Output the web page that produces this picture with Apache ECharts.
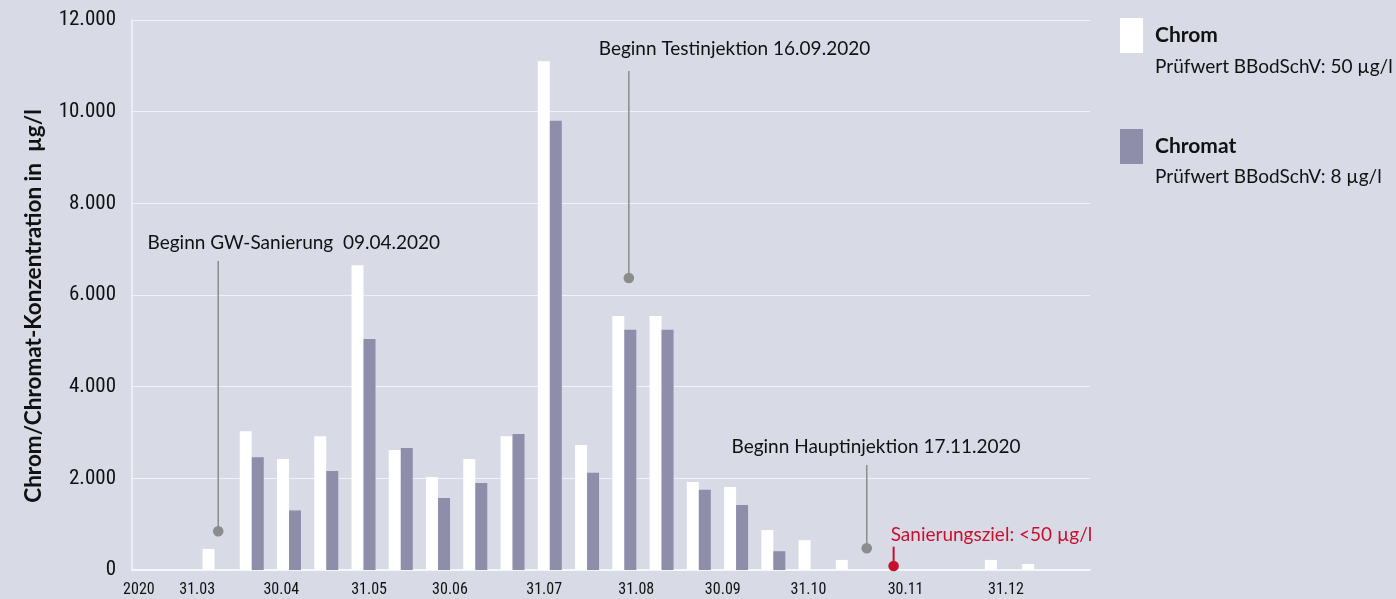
<!DOCTYPE html>
<html>
<head>
<meta charset="utf-8">
<script src="https://cdn.jsdelivr.net/npm/echarts@6/dist/echarts.min.js"></script>
<style>
html,body{margin:0;padding:0;background:#d8dbe6;}
#chart{width:1396px;height:599px;}
</style>
</head>
<body>
<div id="chart"></div>
<script>
// ---- data ----
const seriesNames = ['Chrom', 'Chromat'];
const legendNotes = ['Prüfwert BBodSchV: 50 µg/l', 'Prüfwert BBodSchV: 8 µg/l'];
// sample positions on the time scale (days since start of 2020)
const sampleDay = [31, 45, 59, 73, 87, 101, 115, 129, 143, 157, 171, 185, 199, 213, 227, 241, 255, 269, 283, 297, 311, 325, 339];
const chrom   = [460, 3030, 2420, 2920, 6650, 2620, 2030, 2420, 2920, 11100, 2730, 5540, 5540, 1920, 1810, 870, 650, 220, null, null, null, 220, 130];
const chromat = [null, 2460, 1300, 2160, 5040, 2660, 1570, 1900, 2970, 9800, 2120, 5240, 5240, 1750, 1420, 410, null, null, null, null, null, null, null];
// x-axis tick labels and their positions
const tickDay    = [2.6, 24.5, 56.1, 89.1, 119.5, 154.9, 189.5, 222.0, 254.2, 290.7, 328.4];
const tickLabels = ['2020', '31.03', '30.04', '31.05', '30.06', '31.07', '31.08', '30.09', '31.10', '30.11', '31.12'];
// annotations: line x, dot value, line-top value, text x, text value
const annText  = ['Beginn GW-Sanierung  09.04.2020', 'Beginn Testinjektion 16.09.2020', 'Beginn Hauptinjektion 17.11.2020', 'Sanierungsziel: <50 µg/l'];
const annX     = [32.4, 186.7, 276.1, 286.2];
const annDot   = [844, 6371, 473, 87];
const annTop   = [6742, 10888, 2291, 509];
const annTextX = [60.8, 226.4, 279.6, 285.1];
const annTextY = [7135, 11368, 2684, 764];
const annKind  = ['event', 'event', 'event', 'goal'];

// ---- styles ----
const COL_WHITE = '#ffffff';
const COL_PURPLE = '#8e8eaa';
const COL_GRAY = '#8c8c8c';
const COL_RED = '#c8102e';
const TXT = '#111111';
const NARROW = "'Liberation Sans Narrow', 'Roboto Condensed', 'DejaVu Sans Condensed', sans-serif";
const SANS = "Lato, 'Open Sans', sans-serif";

const fmtThousands = v => String(v).replace(/\B(?=(\d{3})+(?!\d))/g, '.');

const chart = echarts.init(document.getElementById('chart'), null, {renderer: 'canvas'});

const annData = annX.map((x, i) => [x, annDot[i], annTop[i], annTextX[i], annTextY[i]]);

const option = {
  backgroundColor: '#d8dbe6',
  animation: false,
  grid: {left: 132, right: 306, top: 20, bottom: 29, containLabel: false},
  xAxis: {
    type: 'value', min: 0, max: 360,
    axisLine: {show: true, lineStyle: {color: '#f6f7fa', width: 2}},
    axisTick: {show: false},
    splitLine: {show: false},
    axisLabel: {
      customValues: tickDay,
      formatter: v => { const i = tickDay.indexOf(v); return i >= 0 ? tickLabels[i] : ''; },
      color: TXT, fontFamily: NARROW, fontSize: 16, margin: 12
    }
  },
  yAxis: {
    type: 'value', min: 0, max: 12000, interval: 2000,
    name: 'Chrom/Chromat-Konzentration in  µg/l',
    nameLocation: 'middle', nameGap: 87, nameRotate: 90,
    nameTextStyle: {fontFamily: SANS, fontWeight: 'bold', fontSize: 22.5, color: TXT, padding: [0, 22, 0, 0]},
    axisLine: {show: true, lineStyle: {color: '#f4f5f9', width: 1.5}},
    axisTick: {show: false},
    splitLine: {show: true, lineStyle: {color: '#f1f2f7', width: 1.2}},
    axisLabel: {formatter: fmtThousands, color: TXT, fontFamily: NARROW, fontSize: 21, margin: 16}
  },
  legend: {
    orient: 'vertical', left: 1115, top: 13,
    itemWidth: 23, itemHeight: 35, itemGap: 76,
    icon: 'rect', selectedMode: false,
    data: seriesNames,
    textStyle: {fontFamily: SANS, fontWeight: 'bold', fontSize: 21, color: TXT, padding: [0, 0, 0, 7]}
  },
  graphic: legendNotes.map((t, i) => ({
    type: 'text', left: 1155, top: [57, 167][i],
    style: {text: t, fill: TXT, font: "19px " + SANS}
  })),
  series: [
    {name: seriesNames[0], type: 'bar', barWidth: 12, barGap: '0%',
     itemStyle: {color: COL_WHITE},
     data: sampleDay.map((d, i) => [d, chrom[i]])},
    {name: seriesNames[1], type: 'bar', barWidth: 12, barGap: '0%',
     itemStyle: {color: COL_PURPLE},
     data: sampleDay.map((d, i) => [d, chromat[i]])},
    {type: 'custom', clip: false, z: 5, silent: true,
     encode: {x: 0, y: 1},
     data: annData,
     renderItem: function (params, api) {
       const i = params.dataIndex;
       const goal = annKind[i] === 'goal';
       const color = goal ? COL_RED : COL_GRAY;
       const p0 = api.coord([api.value(0), api.value(1)]);
       const p1 = api.coord([api.value(0), api.value(2)]);
       const pt = api.coord([api.value(3), api.value(4)]);
       return {type: 'group', children: [
         {type: 'line', shape: {x1: p0[0], y1: p0[1], x2: p1[0], y2: p1[1]},
          style: {stroke: color, lineWidth: goal ? 2 : 1.5}},
         {type: 'circle', shape: {cx: p0[0], cy: p0[1], r: 5.3}, style: {fill: color}},
         {type: 'text', x: pt[0], y: pt[1],
          style: {text: annText[i], fill: goal ? COL_RED : TXT, font: "19px " + SANS,
                  align: goal ? 'left' : 'center', verticalAlign: 'middle'}}
       ]};
     }}
  ]
};
chart.setOption(option);
</script>
</body>
</html>
